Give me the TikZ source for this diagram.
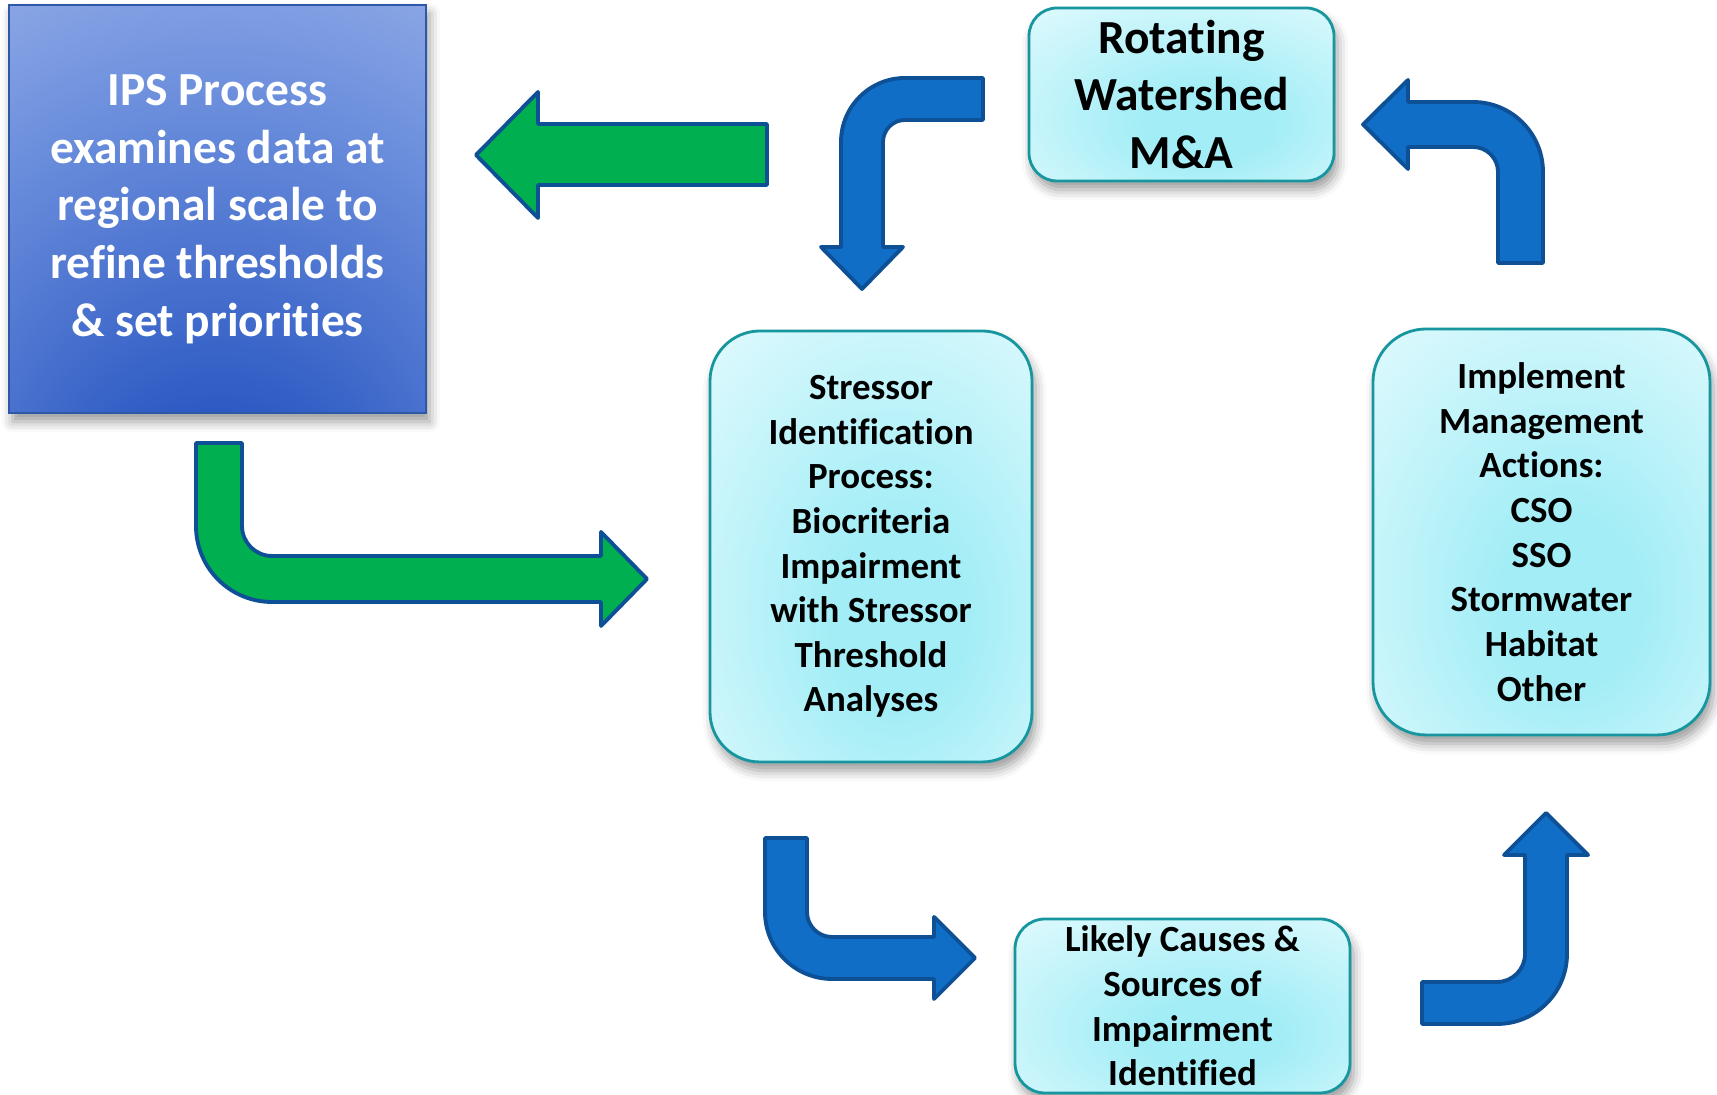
\documentclass[tikz,border=0pt]{standalone}
\usepackage{fontspec}
\setmainfont{Carlito}[Ligatures={NoCommon,NoContextual,NoRare}]
\usetikzlibrary{shadows.blur}

\definecolor{arrowblue}{RGB}{16,110,198}
\definecolor{arrowgreen}{RGB}{0,176,80}
\definecolor{arrowedge}{RGB}{14,80,150}
\definecolor{boxedge}{RGB}{24,150,160}
\definecolor{glowin}{RGB}{162,237,246}
\definecolor{glowout}{RGB}{238,253,255}
\definecolor{ipsedge}{RGB}{45,88,168}
\definecolor{ipsdark}{RGB}{30,75,180}
\definecolor{ipsdeep}{RGB}{45,90,195}
\definecolor{ipsmid}{RGB}{112,146,222}
\definecolor{ipslight}{RGB}{168,188,236}
\definecolor{ipspale}{RGB}{190,205,244}

\pgfdeclareradialshading{boxglow}{\pgfpoint{5bp}{-10bp}}{color(0bp)=(glowin); color(10bp)=(glowin); color(48bp)=(glowout); color(75bp)=(glowout)}
\pgfdeclareradialshading{ipsglow}{\pgfpoint{0bp}{-48bp}}{color(0bp)=(ipsdark); color(15bp)=(ipsdeep); color(42bp)=(ipsmid); color(64bp)=(ipslight); color(90bp)=(ipspale)}

\tikzset{
  softshadow/.style={blur shadow={shadow xshift=1pt, shadow yshift=-2.5pt, shadow blur radius=3pt, shadow opacity=40}},
  ipsbox/.style={draw=ipsedge, line width=0.7pt, shade, shading=ipsglow, softshadow,
    minimum width=4.17cm, minimum height=4.08cm, align=center, text=white,
    font=\bfseries\fontsize{13.5}{16.4}\selectfont},
  cyanbox/.style={draw=boxedge, line width=0.8pt, shade, shading=boxglow, softshadow,
    rounded corners=#1, align=center, inner sep=0pt,
    font=\bfseries\fontsize{10.5}{12.7}\selectfont},
  cyanbox/.default=0.5cm,
  blockarrow/.style={draw=arrowedge, line width=1.1pt, line join=round},
  bluearrow/.style={blockarrow, fill=arrowblue},
  greenarrow/.style={blockarrow, fill=arrowgreen}
}

\begin{document}
\begin{tikzpicture}[x=1cm,y=1cm]
  \useasboundingbox (0,0) rectangle (17.17,10.95);

  % Boxes
  \node[ipsbox] (ips) at (2.175,8.86) {IPS Process\\examines data at\\regional scale to\\refine thresholds\\\& set priorities};
  \node[cyanbox=0.28cm, minimum width=3.05cm, minimum height=1.73cm, font=\bfseries\fontsize{13.5}{16.4}\selectfont] (rw) at (11.815,10.005) {Rotating\\Watershed\\M\&A};
  \node[cyanbox=0.5cm, minimum width=3.22cm, minimum height=4.31cm] (sid) at (8.71,5.485) {Stressor\\Identification\\Process:\\Biocriteria\\Impairment\\with Stressor\\Threshold\\Analyses};
  \node[cyanbox=0.53cm, minimum width=3.37cm, minimum height=4.06cm] (mgmt) at (15.415,5.63) {Implement\\Management\\Actions:\\CSO\\SSO\\Stormwater\\Habitat\\Other};
  \node[cyanbox=0.3cm, minimum width=3.35cm, minimum height=1.74cm] (cause) at (11.825,0.89) {Likely Causes \&\\Sources of\\Impairment\\Identified};

  % Green arrows
  \draw[greenarrow] (4.76,9.40) -- (5.38,10.03) -- (5.38,9.71) -- (7.67,9.71) -- (7.67,9.10) -- (5.38,9.10) -- (5.38,8.77) -- cycle;
  \draw[greenarrow] (1.96,6.52) -- (2.42,6.52) -- (2.42,5.69) arc[start angle=180, end angle=270, radius=0.30]
    -- (6.01,5.39) -- (6.01,5.63) -- (6.47,5.16) -- (6.01,4.69) -- (6.01,4.93) -- (2.72,4.93)
    arc[start angle=270, end angle=180, radius=0.76] -- cycle;

  % Blue arrows
  \draw[bluearrow] (9.83,10.17) -- (9.05,10.17) arc[start angle=90, end angle=180, radius=0.64]
    -- (8.41,8.48) -- (8.21,8.48) -- (8.62,8.06) -- (9.03,8.48) -- (8.83,8.48) -- (8.83,9.53)
    arc[start angle=180, end angle=90, radius=0.22] -- (9.83,9.75) -- cycle;
  \draw[bluearrow] (7.65,2.57) -- (8.07,2.57) -- (8.07,1.83) arc[start angle=180, end angle=270, radius=0.25]
    -- (9.34,1.58) -- (9.34,1.78) -- (9.75,1.37) -- (9.34,0.96) -- (9.34,1.16) -- (8.32,1.16)
    arc[start angle=270, end angle=180, radius=0.67] -- cycle;
  \draw[bluearrow] (14.22,1.13) -- (14.97,1.13) arc[start angle=-90, end angle=0, radius=0.28]
    -- (15.25,2.40) -- (15.04,2.40) -- (15.46,2.82) -- (15.88,2.40) -- (15.67,2.40) -- (15.67,1.41)
    arc[start angle=0, end angle=-90, radius=0.70] -- (14.22,0.71) -- cycle;
  \draw[bluearrow] (14.98,8.32) -- (14.98,9.23) arc[start angle=0, end angle=90, radius=0.25]
    -- (14.08,9.48) -- (14.08,9.26) -- (13.63,9.705) -- (14.08,10.15) -- (14.08,9.93) -- (14.73,9.93)
    arc[start angle=90, end angle=0, radius=0.70] -- (15.43,8.32) -- cycle;
\end{tikzpicture}
\end{document}
